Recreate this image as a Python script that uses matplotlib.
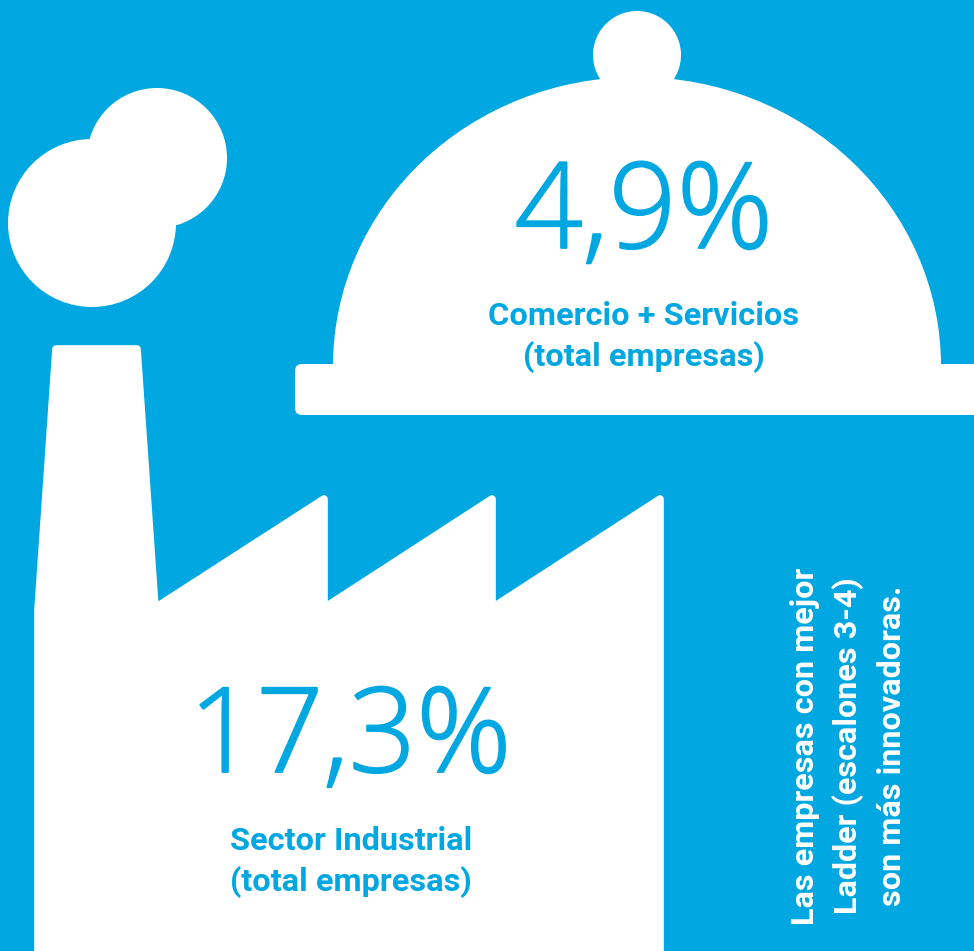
import matplotlib
matplotlib.use("Agg")
import matplotlib.pyplot as plt
import matplotlib.patheffects as pe
from matplotlib.patches import Circle, Polygon, FancyBboxPatch, Ellipse, Rectangle

BLUE = "#00a7e1"
W, H = 974, 951

# values shown in the picture
values = ["4,9%", "17,3%"]
labels = ["Comercio + Servicios\n(total empresas)", "Sector Industrial\n(total empresas)"]
note = ["Las empresas con mejor", "Ladder (escalones 3-4)", "son más innovadoras."]

fig = plt.figure(figsize=(W / 100, H / 100), dpi=100, facecolor=BLUE)
ax = fig.add_axes([0, 0, 1, 1])
ax.set_xlim(0, W)
ax.set_ylim(H, 0)
ax.axis("off")

# smoke
ax.add_patch(Circle((157, 158), 70, color="white", lw=0))
ax.add_patch(Circle((92, 223), 84, color="white", lw=0))

# factory, drawn inset with a thick round-joined edge so the corners are rounded
factory = [(38, 960), (38, 610), (56, 349), (137, 349),
           (155, 608), (324, 499), (324, 608), (492, 499), (492, 608), (660, 499), (660, 960)]
ax.add_patch(Polygon(factory, closed=True, facecolor="white", edgecolor="white", lw=5.5, joinstyle="round"))

# dome
ax.add_patch(Circle((637, 55), 44, color="white", lw=0))
dome = Ellipse((637, 366), 608, 578, color="white", lw=0)
ax.add_patch(dome)
dome.set_clip_path(Rectangle((300, 0), 700, 370, transform=ax.transData))
ax.add_patch(FancyBboxPatch((295, 364), 720, 51, boxstyle="round,pad=0,rounding_size=7", color="white", lw=0))

# big numbers, thickened a little
thick = [pe.withStroke(linewidth=1.3, foreground=BLUE)]
ax.text(644, 248, values[0], color=BLUE, fontsize=86, family="Open Sans", weight="light",
        ha="center", va="baseline", zorder=3, path_effects=thick)
ax.text(350, 772, values[1], color=BLUE, fontsize=85, family="Open Sans", weight="light",
        ha="center", va="baseline", zorder=3, path_effects=thick)

font = "Roboto"
ax.text(644, 337, labels[0], color=BLUE, fontsize=23.4, family=font, weight="bold",
        ha="center", va="center", linespacing=1.38, zorder=3)
ax.text(351, 862, labels[1], color=BLUE, fontsize=23.4, family=font, weight="bold",
        ha="center", va="center", linespacing=1.38, zorder=3)

for x, line in zip([805, 848, 892], note):
    ax.text(x, 746, line, color="white", fontsize=23.3, family=font, weight="bold",
            rotation=90, ha="center", va="center", zorder=3)

fig.savefig("out.png", dpi=100, facecolor=BLUE)
